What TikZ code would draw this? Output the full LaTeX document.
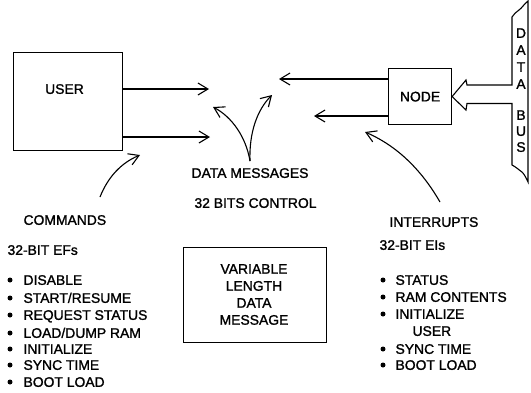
\documentclass[tikz,border=0pt]{standalone}
\usepackage{fontspec}
\setmainfont{Liberation Sans}[FakeBold=1.3]
\usetikzlibrary{arrows.meta}
\begin{document}
\begin{tikzpicture}[x=1pt,y=-1pt, line width=1.1pt,
  txt/.style={inner sep=0pt, font=\fontsize{13.9}{17}\selectfont, text height=9.7pt, text depth=0pt},
  lt/.style={txt, anchor=west},
  box/.style={draw, inner sep=0pt},
  bul/.style={circle, fill, inner sep=0pt, minimum size=5pt},
  arr/.style={-{Straight Barb[length=10pt,width=12pt,line width=1.1pt]}},
  ]
\useasboundingbox (0,0) rectangle (531,392);

% boxes
\node[box, minimum width=109pt, minimum height=98pt, anchor=north west] (user) at (13,52) {};
\node[txt] (usertxt) at (64.5,89) {USER};
\node[box, txt, minimum width=63pt, minimum height=56pt, anchor=north west, text height=9.7pt] (node) at (388,68) {NODE};
\node[box, minimum width=143pt, minimum height=95pt, anchor=north west] (vbox) at (183,247) {};
\node[inner sep=0pt, align=center, font=\fontsize{13.9}{17}\selectfont] (vtxt) at (254,294.5) {VARIABLE\\LENGTH\\DATA\\MESSAGE};

% straight arrows
\coordinate (u1) at (209,89);
\coordinate (u2) at (210,137);
\coordinate (n1) at (279,79);
\coordinate (n2) at (314,116);
\draw[arr] (user.east |- u1) -- (u1);
\draw[arr] (user.east |- u2) -- (u2);
\draw[arr] (node.west |- n1) -- (n1);
\draw[arr] (node.west |- n2) -- (n2);

% data bus with hollow arrow
\draw[line join=miter] (512,17) -- (512,85) -- (467,85) -- (466,80) -- (node.east) -- (466,110) -- (467,103.5) -- (512,103.5) -- (512,165)
  .. controls (516,167) and (519,170) .. (522,172) .. controls (525,175) and (526,178) .. (528,182)
  -- (528,1)
  .. controls (524,4) and (522,8) .. (519,10) .. controls (516,12) and (514,14) .. (512,17) -- cycle;
\node[txt] (bd1) at (521,33) {D};
\node[txt] (bd2) at (521,50) {A};
\node[txt] (bd3) at (521,67) {T};
\node[txt] (bd4) at (521,84) {A};
\node[txt] (bb1) at (521,115) {B};
\node[txt] (bb2) at (521,131) {U};
\node[txt] (bb3) at (521,147) {S};

% center labels
\node[txt] (dm) at (250,173) {DATA MESSAGES};
\node[txt] (bc) at (255.5,203) {32 BITS CONTROL};

% curved arrows
\coordinate (c0) at (100,197);
\coordinate (c1) at (140,155);
\draw[arr] (c0) .. controls (108,177) and (121,163) .. (c1);
\coordinate (d0) at (250,161);
\coordinate (d1) at (213,107);
\coordinate (d2) at (272,95);
\draw[arr] (d0) .. controls (246,137) and (232,117) .. (d1);
\draw[arr] (d0) .. controls (249,133) and (257,110) .. (d2);
\coordinate (i0) at (440,202);
\coordinate (i1) at (365,132);
\draw[arr] (i0) .. controls (425,176) and (402,148) .. (i1);

% left list
\node[lt] (cmd) at (23,220) {COMMANDS};
\node[lt] (efs) at (7,250) {32-BIT EFs};
\node[bul] (lb1) at (10,280) {}; \node[lt] (l1) at (23,280) {DISABLE};
\node[bul] (lb2) at (10,298) {}; \node[lt] (l2) at (23,298) {START/RESUME};
\node[bul] (lb3) at (10,315) {}; \node[lt] (l3) at (23,315) {REQUEST STATUS};
\node[bul] (lb4) at (10,333) {}; \node[lt] (l4) at (23,333) {LOAD/DUMP RAM};
\node[bul] (lb5) at (10,349) {}; \node[lt] (l5) at (23,349) {INITIALIZE};
\node[bul] (lb6) at (10,365) {}; \node[lt] (l6) at (23,365) {SYNC TIME};
\node[bul] (lb7) at (10,382) {}; \node[lt] (l7) at (23,382) {BOOT LOAD};

% right list
\node[lt] (intr) at (389,222) {INTERRUPTS};
\node[lt] (eis) at (379,245) {32-BIT EIs};
\node[bul] (rb1) at (383,280) {}; \node[lt] (r1) at (395,280) {STATUS};
\node[bul] (rb2) at (383,297) {}; \node[lt] (r2) at (395,297) {RAM CONTENTS};
\node[bul] (rb3) at (383,314) {}; \node[lt] (r3) at (395,314) {INITIALIZE};
\node[lt] (r3b) at (412,331) {USER};
\node[bul] (rb4) at (383,349) {}; \node[lt] (r4) at (395,349) {SYNC TIME};
\node[bul] (rb5) at (383,365) {}; \node[lt] (r5) at (395,365) {BOOT LOAD};
\end{tikzpicture}
\end{document}
